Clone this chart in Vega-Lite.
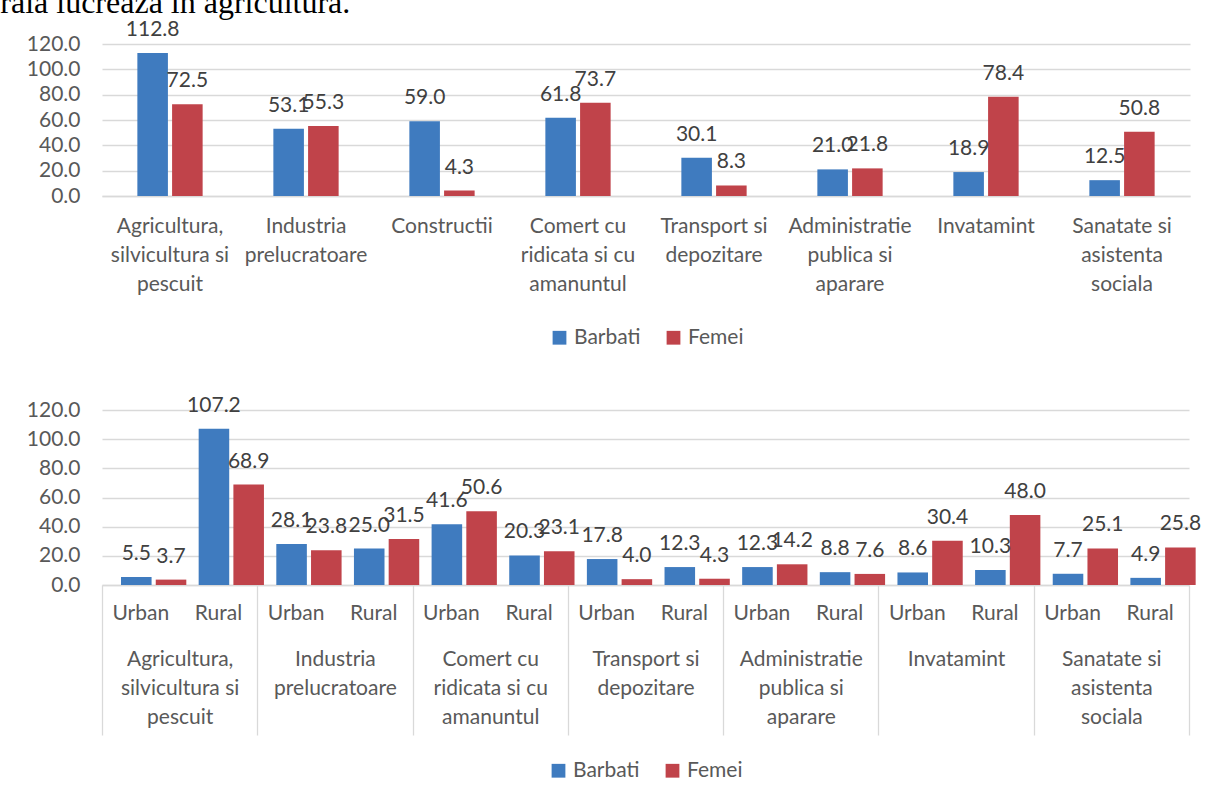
{
  "$schema": "https://vega.github.io/schema/vega-lite/v6.json",
  "background": "white",
  "padding": {"left": 0, "top": -13, "right": 0, "bottom": 0},
  "title": {"text": "rala lucreaza în agricultura.", "font": "Liberation Serif", "fontSize": 32, "fontWeight": "normal", "color": "#000000", "anchor": "start", "frame": "bounds", "dx": -26, "offset": -1},
  "config": {
    "font": "Lato",
    "view": {"stroke": null},
    "axis": {"labelFont": "Lato", "labelFontSize": 21, "labelColor": "#595959", "gridColor": "#d9d9d9", "gridWidth": 1.3, "domainColor": "#d9d9d9", "domainWidth": 1.3},
    "legend": {"layout": {"bottom": {"anchor": "middle"}}}
  },
  "resolve": {"scale": {"color": "independent"}, "legend": {"color": "independent"}},
  "spacing": 46,
  "vconcat": [
    {
      "width": 1088,
      "height": 152,
      "data": {"values": [
        {"cat": "Agricultura,|silvicultura si|pescuit", "sex": "Barbati", "value": 112.8},
        {"cat": "Agricultura,|silvicultura si|pescuit", "sex": "Femei", "value": 72.5},
        {"cat": "Industria|prelucratoare", "sex": "Barbati", "value": 53.1},
        {"cat": "Industria|prelucratoare", "sex": "Femei", "value": 55.3},
        {"cat": "Constructii", "sex": "Barbati", "value": 59.0},
        {"cat": "Constructii", "sex": "Femei", "value": 4.3},
        {"cat": "Comert cu|ridicata si cu|amanuntul", "sex": "Barbati", "value": 61.8},
        {"cat": "Comert cu|ridicata si cu|amanuntul", "sex": "Femei", "value": 73.7},
        {"cat": "Transport si|depozitare", "sex": "Barbati", "value": 30.1},
        {"cat": "Transport si|depozitare", "sex": "Femei", "value": 8.3},
        {"cat": "Administratie|publica si|aparare", "sex": "Barbati", "value": 21.0},
        {"cat": "Administratie|publica si|aparare", "sex": "Femei", "value": 21.8},
        {"cat": "Invatamint", "sex": "Barbati", "value": 18.9},
        {"cat": "Invatamint", "sex": "Femei", "value": 78.4},
        {"cat": "Sanatate si|asistenta|sociala", "sex": "Barbati", "value": 12.5},
        {"cat": "Sanatate si|asistenta|sociala", "sex": "Femei", "value": 50.8}
      ]},
      "encoding": {
        "x": {"field": "cat", "type": "nominal", "sort": null, "title": null,
          "scale": {"paddingInner": 0.52, "paddingOuter": 0.26},
          "axis": {"labelExpr": "split(datum.label, '|')", "labelAngle": 0, "ticks": false, "labelLineHeight": 29, "labelPadding": 19, "labelBaseline": "top"}},
        "xOffset": {"field": "sex", "type": "nominal", "sort": ["Barbati", "Femei"], "scale": {"paddingInner": 0.12, "paddingOuter": 0}},
        "y": {"field": "value", "type": "quantitative", "scale": {"domain": [0, 120]},
          "axis": {"values": [0, 20, 40, 60, 80, 100, 120], "format": ".1f", "title": null, "domain": false, "ticks": false, "labelPadding": 22}},
        "color": {"field": "sex", "type": "nominal", "sort": ["Barbati", "Femei"],
          "scale": {"domain": ["Barbati", "Femei"], "range": ["#3F7BBF", "#C0434A"]},
          "legend": {"orient": "bottom", "direction": "horizontal", "title": null, "symbolType": "square", "symbolSize": 190, "symbolStrokeWidth": 0, "labelFontSize": 21, "labelColor": "#595959", "labelFont": "Lato", "columnPadding": 22, "offset": 33}}
      },
      "layer": [
        {"mark": {"type": "bar"}},
        {"mark": {"type": "text", "baseline": "alphabetic", "dy": -17, "fontSize": 21, "font": "Lato"},
          "encoding": {"text": {"field": "value", "type": "quantitative", "format": ".1f"}, "color": {"value": "#404040"}}}
      ]
    },
    {
      "width": 1087,
      "height": 175,
      "data": {"values": [
        {"cat": "Agricultura,|silvicultura si|pescuit", "grup": "1-Urban", "sex": "Barbati", "value": 5.5},
        {"cat": "Agricultura,|silvicultura si|pescuit", "grup": "1-Urban", "sex": "Femei", "value": 3.7},
        {"cat": "Agricultura,|silvicultura si|pescuit", "grup": "1-Rural", "sex": "Barbati", "value": 107.2},
        {"cat": "Agricultura,|silvicultura si|pescuit", "grup": "1-Rural", "sex": "Femei", "value": 68.9},
        {"cat": "Industria|prelucratoare", "grup": "2-Urban", "sex": "Barbati", "value": 28.1},
        {"cat": "Industria|prelucratoare", "grup": "2-Urban", "sex": "Femei", "value": 23.8},
        {"cat": "Industria|prelucratoare", "grup": "2-Rural", "sex": "Barbati", "value": 25.0},
        {"cat": "Industria|prelucratoare", "grup": "2-Rural", "sex": "Femei", "value": 31.5},
        {"cat": "Comert cu|ridicata si cu|amanuntul", "grup": "3-Urban", "sex": "Barbati", "value": 41.6},
        {"cat": "Comert cu|ridicata si cu|amanuntul", "grup": "3-Urban", "sex": "Femei", "value": 50.6},
        {"cat": "Comert cu|ridicata si cu|amanuntul", "grup": "3-Rural", "sex": "Barbati", "value": 20.3},
        {"cat": "Comert cu|ridicata si cu|amanuntul", "grup": "3-Rural", "sex": "Femei", "value": 23.1},
        {"cat": "Transport si|depozitare", "grup": "4-Urban", "sex": "Barbati", "value": 17.8},
        {"cat": "Transport si|depozitare", "grup": "4-Urban", "sex": "Femei", "value": 4.0},
        {"cat": "Transport si|depozitare", "grup": "4-Rural", "sex": "Barbati", "value": 12.3},
        {"cat": "Transport si|depozitare", "grup": "4-Rural", "sex": "Femei", "value": 4.3},
        {"cat": "Administratie|publica si|aparare", "grup": "5-Urban", "sex": "Barbati", "value": 12.3},
        {"cat": "Administratie|publica si|aparare", "grup": "5-Urban", "sex": "Femei", "value": 14.2},
        {"cat": "Administratie|publica si|aparare", "grup": "5-Rural", "sex": "Barbati", "value": 8.8},
        {"cat": "Administratie|publica si|aparare", "grup": "5-Rural", "sex": "Femei", "value": 7.6},
        {"cat": "Invatamint", "grup": "6-Urban", "sex": "Barbati", "value": 8.6},
        {"cat": "Invatamint", "grup": "6-Urban", "sex": "Femei", "value": 30.4},
        {"cat": "Invatamint", "grup": "6-Rural", "sex": "Barbati", "value": 10.3},
        {"cat": "Invatamint", "grup": "6-Rural", "sex": "Femei", "value": 48.0},
        {"cat": "Sanatate si|asistenta|sociala", "grup": "7-Urban", "sex": "Barbati", "value": 7.7},
        {"cat": "Sanatate si|asistenta|sociala", "grup": "7-Urban", "sex": "Femei", "value": 25.1},
        {"cat": "Sanatate si|asistenta|sociala", "grup": "7-Rural", "sex": "Barbati", "value": 4.9},
        {"cat": "Sanatate si|asistenta|sociala", "grup": "7-Rural", "sex": "Femei", "value": 25.8}
      ]},
      "encoding": {
        "y": {"field": "value", "type": "quantitative", "stack": null, "scale": {"domain": [0, 120]},
          "axis": {"values": [0, 20, 40, 60, 80, 100, 120], "format": ".1f", "title": null, "domain": false, "ticks": false, "labelPadding": 22}}
      },
      "layer": [
        {
          "encoding": {
            "x": {"field": "grup", "type": "nominal", "sort": null, "title": null,
              "scale": {"paddingInner": 0.49, "paddingOuter": 0.245},
              "axis": {"orient": "bottom", "labelExpr": "split(datum.label, '-')[1]", "labelAngle": 0, "ticks": false, "labelPadding": 17, "labelBaseline": "top"}},
            "xOffset": {"field": "sex", "type": "nominal", "sort": ["Barbati", "Femei"], "scale": {"paddingInner": 0.2, "paddingOuter": 0}},
            "color": {"field": "sex", "type": "nominal", "sort": ["Barbati", "Femei"],
              "scale": {"domain": ["Barbati", "Femei"], "range": ["#3F7BBF", "#C0434A"]},
              "legend": {"orient": "bottom", "direction": "horizontal", "title": null, "symbolType": "square", "symbolSize": 190, "symbolStrokeWidth": 0, "labelFontSize": 21, "labelColor": "#595959", "labelFont": "Lato", "columnPadding": 22, "offset": 24}}
          },
          "layer": [
            {"mark": {"type": "bar"}},
            {"mark": {"type": "text", "baseline": "alphabetic", "dy": -17, "fontSize": 21, "font": "Lato"},
              "encoding": {"text": {"field": "value", "type": "quantitative", "format": ".1f"}, "color": {"value": "#404040"}}}
          ]
        },
        {
          "mark": {"type": "bar", "opacity": 0},
          "encoding": {
            "x": {"field": "cat", "type": "nominal", "sort": null, "title": null,
              "scale": {"paddingInner": 0, "paddingOuter": 0},
              "axis": {"orient": "bottom", "labelExpr": "split(datum.label, '|')", "labelAngle": 0, "ticks": true, "tickBand": "extent", "tickSize": 150, "tickColor": "#d9d9d9", "tickWidth": 1.3, "domain": false, "labelLineHeight": 29, "labelPadding": -87, "labelBaseline": "top"}}
          }
        }
      ],
      "resolve": {"scale": {"x": "independent"}, "axis": {"x": "independent"}}
    }
  ]
}
